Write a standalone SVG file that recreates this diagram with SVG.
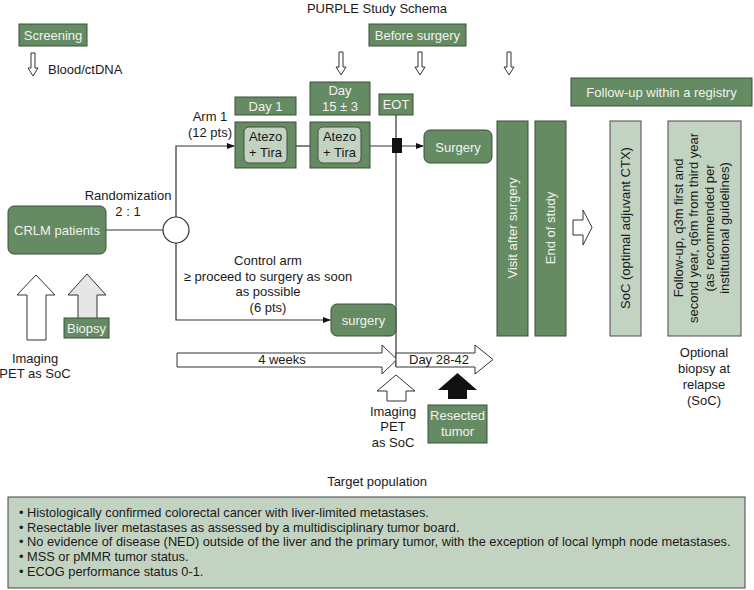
<svg xmlns="http://www.w3.org/2000/svg" width="754" height="590" viewBox="0 0 754 590">
<defs>
<style>
text{font-family:"Liberation Sans",Arial,sans-serif;font-size:13px;fill:#1a1a1a}
.dk{fill:#648b61;stroke:#3d4d3d;stroke-width:1}
.lt{fill:#c3d3c1;stroke:#4a4a4a;stroke-width:1}
.wt{fill:#f2f2f2}
.c{text-anchor:middle}
.ln{fill:none;stroke:#333;stroke-width:1.2}
.ha{fill:#fff;stroke:#333;stroke-width:1}
.pop{font-size:12.8px}
</style>
<marker id="ah" markerWidth="8" markerHeight="8" refX="7" refY="4" orient="auto" markerUnits="userSpaceOnUse">
<path d="M0,1 L8,4 L0,7 Z" fill="#111"/>
</marker>
</defs>
<rect width="754" height="590" fill="#fff"/>

<text class="c" x="377" y="13">PURPLE Study Schema</text>

<g id="screening">
<rect class="dk" x="19" y="24" width="68" height="22"/>
<text class="c wt" x="53" y="40">Screening</text>
</g>
<g id="blood">
<path class="ha" d="M31,53 H35 V68 H38 L33,76 L28,68 H31 Z"/>
<text x="48" y="74">Blood/ctDNA</text>
</g>

<g id="before-surgery">
<rect class="dk" x="369" y="24" width="97" height="22"/>
<text class="c wt" x="417.5" y="40">Before surgery</text>
</g>
<g id="down-arrows">
<path class="ha" d="M339,52 H343 V67 H346 L341,75 L336,67 H339 Z"/>
<path class="ha" d="M418,52 H422 V67 H425 L420,75 L415,67 H418 Z"/>
<path class="ha" d="M507,52 H511 V67 H514 L509,75 L504,67 H507 Z"/>
</g>

<g id="day1">
<rect class="dk" x="235" y="97" width="61" height="18"/>
<text class="c wt" x="265.5" y="111">Day 1</text>
</g>
<g id="day15">
<rect class="dk" x="310" y="82" width="60" height="33"/>
<text class="c wt" x="340" y="95">Day</text>
<text class="c wt" x="340" y="111">15 ± 3</text>
</g>
<g id="eot">
<rect class="dk" x="379" y="94" width="34" height="21"/>
<text class="c wt" x="396" y="109">EOT</text>
</g>

<g id="follow-up-header">
<rect class="dk" x="571" y="78" width="181" height="28"/>
<text class="c wt" x="661.5" y="97">Follow-up within a registry</text>
</g>

<g id="connectors">
<line class="ln" x1="106" y1="230" x2="163" y2="230"/>
<polyline class="ln" points="176,217 176,146 234,146" marker-end="url(#ah)"/>
<polyline class="ln" points="176,243 176,320 330,320" marker-end="url(#ah)"/>
<line class="ln" x1="296" y1="146" x2="310" y2="146"/>
<line class="ln" x1="370" y1="146" x2="423" y2="146" marker-end="url(#ah)"/>
<line class="ln" x1="396" y1="115" x2="396" y2="367"/>
<rect x="392" y="138" width="10" height="15" fill="#111"/>
</g>

<g id="crlm">
<rect class="dk" x="8" y="206" width="98" height="48" rx="6"/>
<text class="c wt" x="57" y="235">CRLM patients</text>
</g>
<g id="randomization">
<circle cx="176" cy="230" r="13" fill="#fff" stroke="#333" stroke-width="1.2"/>
<text class="c" x="128" y="200">Randomization</text>
<text class="c" x="128" y="216">2 : 1</text>
</g>

<g id="arm1-label">
<text class="c" x="210" y="121">Arm 1</text>
<text class="c" x="210" y="137">(12 pts)</text>
</g>

<g id="arm1-day1">
<rect class="dk" x="235" y="122" width="61" height="46"/>
<rect class="lt" x="244" y="127" width="43" height="36" rx="5"/>
<text class="c" x="265.5" y="141">Atezo</text>
<text class="c" x="265.5" y="157">+ Tira</text>
</g>
<g id="arm1-day15">
<rect class="dk" x="310" y="122" width="60" height="46"/>
<rect class="lt" x="318" y="127" width="43" height="36" rx="5"/>
<text class="c" x="339.5" y="141">Atezo</text>
<text class="c" x="339.5" y="157">+ Tira</text>
</g>

<g id="surgery-arm1">
<rect class="dk" x="424" y="130" width="68" height="33" rx="6"/>
<text class="c wt" x="458" y="152">Surgery</text>
</g>

<g id="control-label">
<text class="c" x="268" y="265">Control arm</text>
<text class="c" x="268" y="281">≥ proceed to surgery as soon</text>
<text class="c" x="268" y="296">as possible</text>
<text class="c" x="268" y="312">(6 pts)</text>
</g>
<g id="surgery-control">
<rect class="dk" x="331" y="304" width="65" height="32" rx="6"/>
<text class="c wt" x="363.5" y="325">surgery</text>
</g>

<g id="visit-after-surgery">
<rect class="dk" x="497" y="121" width="31" height="215"/>
<text class="c wt" transform="translate(517,228) rotate(-90)">Visit after surgery</text>
</g>
<g id="end-of-study">
<rect class="dk" x="535" y="121" width="31" height="215"/>
<text class="c wt" transform="translate(555,228) rotate(-90)">End of study</text>
</g>
<g id="big-right-arrow">
<path class="ha" d="M573,220 H583 V210 L592,227.5 L583,245 V235 H573 Z"/>
</g>
<g id="soc">
<rect class="lt" x="610" y="121" width="31" height="215"/>
<text class="c" transform="translate(630,228) rotate(-90)">SoC (optimal adjuvant CTX)</text>
</g>
<g id="follow-up">
<rect class="lt" x="668" y="121" width="73" height="215"/>
<text class="c" transform="translate(683,228) rotate(-90)">Follow-up, q3m first and</text>
<text class="c" transform="translate(698,228) rotate(-90)">second year, q6m from third year</text>
<text class="c" transform="translate(714,228) rotate(-90)">(as recommended per</text>
<text class="c" transform="translate(729,228) rotate(-90)">institutional guidelines)</text>
</g>
<g id="optional-biopsy">
<text class="c" x="704" y="357">Optional</text>
<text class="c" x="704" y="373">biopsy at</text>
<text class="c" x="704" y="389">relapse</text>
<text class="c" x="704" y="405">(SoC)</text>
</g>

<g id="imaging-left">
<path class="ha" d="M17,295 L36,275 L55,295 H46 V340 H27 V295 Z"/>
<text class="c" x="35" y="363">Imaging</text>
<text class="c" x="35" y="378">PET as SoC</text>
</g>
<g id="biopsy">
<path d="M68,295 L87,274 L106,295 H97 V322 H78 V295 Z" fill="#e6e6e6" stroke="#333" stroke-width="1"/>
<rect class="dk" x="64" y="318" width="45" height="20"/>
<text class="c wt" x="86.5" y="333">Biopsy</text>
</g>

<g id="timeline">
<path class="ha" d="M177,353 H382 V345 L397,359.5 L382,374 V367 H177 Z"/>
<text class="c" x="282" y="364">4 weeks</text>
<path class="ha" d="M396,353 H475 V345 L493,359.5 L475,374 V367 H396 Z"/>
<text class="c" x="439" y="364">Day 28-42</text>
</g>

<g id="imaging-pet">
<path class="ha" d="M377,391 L396,375 L415,391 H406 V401 H387 V391 Z"/>
<text class="c" x="393" y="416">Imaging</text>
<text class="c" x="393" y="431">PET</text>
<text class="c" x="393" y="447">as SoC</text>
</g>
<g id="resected-tumor">
<path d="M438,390 L457.5,373 L477,390 H467 V399 H448 V390 Z" fill="#111"/>
<rect class="dk" x="428" y="405" width="59" height="38"/>
<text class="c wt" x="457.5" y="420">Resected</text>
<text class="c wt" x="457.5" y="436">tumor</text>
</g>

<g id="target-population">
<text class="c" x="377" y="486">Target population</text>
<rect x="8" y="497" width="737" height="91" fill="#c3d3c1" stroke="#444" stroke-width="1"/>
<text class="pop" x="19" y="517">• Histologically confirmed colorectal cancer with liver-limited metastases.</text>
<text class="pop" x="19" y="531.5">• Resectable liver metastases as assessed by a multidisciplinary tumor board.</text>
<text class="pop" x="19" y="546">• No evidence of disease (NED) outside of the liver and the primary tumor, with the exception of local lymph node metastases.</text>
<text class="pop" x="19" y="561">• MSS or pMMR tumor status.</text>
<text class="pop" x="19" y="576">• ECOG performance status 0-1.</text>
</g>
</svg>
